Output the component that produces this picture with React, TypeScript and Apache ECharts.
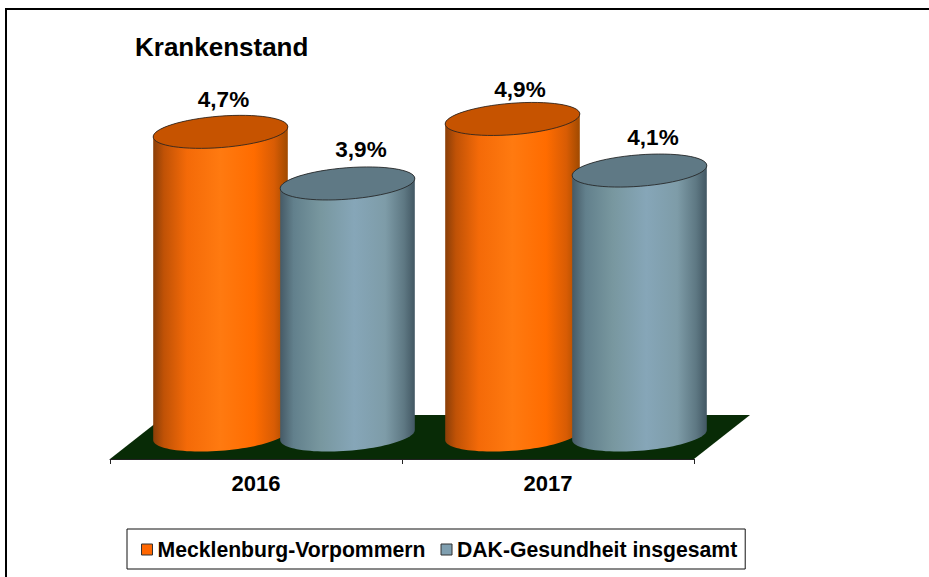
import React, { useEffect, useRef } from "react";
import * as echarts from "echarts";

const categories = ["2016", "2017"];
const mecklenburg = [4.7, 4.9];
const dak = [3.9, 4.1];
const seriesNames = ["Mecklenburg-Vorpommern", "DAK-Gesundheit insgesamt"];
const titleText = "Krankenstand";

const FONT = '"Liberation Sans", Arial, sans-serif';
const DEPTH_X = 28;
const DEPTH_Y = 24;
const HALF_GAP = 63.5;
const RX = 67.5;
const RY = 15.7;
const TILT = (-4.5 * Math.PI) / 180;

const formatValue = (v: number) => String(v).replace(".", ",") + "%";

// a point of the tilted ellipse, relative to its centre
const rim = (t: number): [number, number] => [
  RX * Math.cos(t) * Math.cos(TILT) - RY * Math.sin(t) * Math.sin(TILT),
  RX * Math.cos(t) * Math.sin(TILT) + RY * Math.sin(t) * Math.cos(TILT),
];
// parameter of the rightmost point of the rim
const T0 = Math.atan2(-RY * Math.sin(TILT), RX * Math.cos(TILT));
const RIM_STEPS = 48;

type Look = {
  side: number;
  top: string;
  stops: [number, string][];
  nudge: [number, number][];
};

const orangeLook: Look = {
  side: -1,
  top: "#C65300",
  stops: [
    [0, "#8A3E08"],
    [0.08, "#C05206"],
    [0.25, "#F46A08"],
    [0.5, "#FF7A10"],
    [0.75, "#FF6C00"],
    [0.9, "#D85C04"],
    [1, "#A04A00"],
  ],
  nudge: [
    [3, -32],
    [7.5, -29],
  ],
};

const blueLook: Look = {
  side: 1,
  top: "#5F7985",
  stops: [
    [0, "#465A66"],
    [0.1, "#62808C"],
    [0.3, "#78979F"],
    [0.55, "#86A6B8"],
    [0.78, "#7E9CA8"],
    [0.92, "#5E7883"],
    [1, "#425763"],
  ],
  nudge: [
    [13.5, -33.5],
    [13.5, -33],
  ],
};

function cylinder(look: Look) {
  return (params: any, api: any) => {
    const cat = api.value(0);
    const val = api.value(1);
    const top = api.coord([cat, val]);
    const base = api.coord([cat, 0]);
    const cx = top[0] + DEPTH_X + look.side * HALF_GAP;
    const yTop = top[1] - DEPTH_Y;
    const yBase = base[1] - DEPTH_Y;
    const points: number[][] = [];
    // lower half of the base rim, from the right tangent to the left one
    for (let i = 0; i <= RIM_STEPS; i++) {
      const p = rim(T0 + (Math.PI * i) / RIM_STEPS);
      points.push([cx + p[0], yBase + p[1]]);
    }
    // upper half of the top rim, from the left tangent to the right one
    for (let i = 0; i <= RIM_STEPS; i++) {
      const p = rim(T0 + Math.PI + (Math.PI * i) / RIM_STEPS);
      points.push([cx + p[0], yTop + p[1]]);
    }
    const nudge = look.nudge[cat];
    return {
      type: "group",
      children: [
        {
          type: "polygon",
          shape: { points },
          style: {
            fill: new echarts.graphic.LinearGradient(
              0,
              0,
              1,
              0,
              look.stops.map(([offset, color]) => ({ offset, color }))
            ),
          },
        },
        {
          type: "ellipse",
          shape: { cx: 0, cy: 0, rx: RX, ry: RY },
          x: cx,
          y: yTop,
          rotation: -TILT,
          style: { fill: look.top, stroke: "#222222", lineWidth: 0.8 },
        },
        {
          type: "text",
          x: cx + nudge[0],
          y: yTop + nudge[1],
          style: {
            text: formatValue(val),
            fill: "#000000",
            font: `bold 22.5px ${FONT}`,
            align: "center",
            verticalAlign: "middle",
          },
        },
      ],
    };
  };
}

function floor(params: any) {
  const c = params.coordSys;
  const y = c.y + c.height;
  const left = c.x;
  const right = c.x + c.width;
  return {
    type: "polygon",
    shape: {
      points: [
        [left, y],
        [right, y],
        [right + 56, y - 44],
        [left + 56, y - 44],
      ],
    },
    style: { fill: "#082B06" },
  };
}

export default function App() {
  const ref = useRef<HTMLDivElement>(null);
  useEffect(() => {
    document.body.style.margin = "0";
    const chart = echarts.init(ref.current!, undefined, { renderer: "svg" });
    chart.setOption({
      animation: false,
      backgroundColor: "#ffffff",
      title: {
        text: titleText,
        left: 135,
        top: 34,
        padding: 0,
        textStyle: { fontFamily: FONT, fontSize: 26, fontWeight: "bold", color: "#000000" },
      },
      grid: { left: 110, right: 235, top: 72, bottom: 118 },
      xAxis: {
        type: "category",
        data: categories,
        z: 3,
        axisLine: { show: true, lineStyle: { color: "#222222", width: 1 } },
        axisTick: { show: true, length: 5, lineStyle: { color: "#222222", width: 1 } },
        axisLabel: { fontFamily: FONT, fontSize: 22, fontWeight: "bold", color: "#000000", margin: 13 },
      },
      yAxis: { type: "value", min: 0, max: 6, interval: 1, show: false },
      legend: {
        data: seriesNames,
        left: 127,
        top: 529,
        orient: "horizontal",
        padding: [10, 8, 9, 14],
        itemGap: 15,
        itemWidth: 11,
        itemHeight: 11,
        icon: "rect",
        backgroundColor: "#ffffff",
        borderColor: "#111111",
        borderWidth: 1,
        itemStyle: { borderColor: "#333333", borderWidth: 1 },
        textStyle: { fontFamily: FONT, fontSize: 21.2, fontWeight: "bold", color: "#000000" },
      },
      graphic: [
        {
          type: "rect",
          z: -1,
          shape: { x: 6, y: 9, width: 1200, height: 1200 },
          style: { fill: "none", stroke: "#000000", lineWidth: 2 },
          silent: true,
        },
      ],
      series: [
        {
          type: "custom",
          name: "floor",
          z: 1,
          silent: true,
          data: [[0, 0]],
          encode: { x: 0, y: 1 },
          renderItem: floor,
        },
        {
          type: "custom",
          name: seriesNames[0],
          z: 2,
          itemStyle: { color: "#FF6600" },
          data: mecklenburg.map((v, i) => [i, v]),
          encode: { x: 0, y: 1 },
          renderItem: cylinder(orangeLook),
        },
        {
          type: "custom",
          name: seriesNames[1],
          z: 2,
          itemStyle: { color: "#7F9FB0" },
          data: dak.map((v, i) => [i, v]),
          encode: { x: 0, y: 1 },
          renderItem: cylinder(blueLook),
        },
      ],
    });
    return () => chart.dispose();
  }, []);
  return <div ref={ref} style={{ position: "fixed", left: 0, top: 0, width: 929, height: 577 }} />;
}
